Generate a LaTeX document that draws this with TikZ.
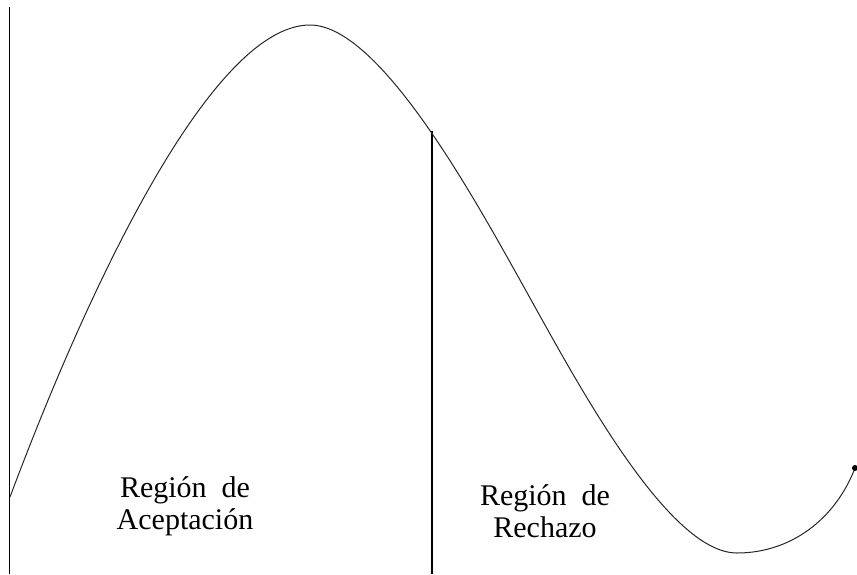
\documentclass[tikz,border=0pt]{standalone}
\usepackage{fontspec}
\setmainfont{Liberation Serif}
\usepackage{tikz}
\usetikzlibrary{positioning,calc}

\begin{document}
\begin{tikzpicture}[
    x=1pt, y=-1pt,
    axis/.style={draw=black, line width=1.3pt},
    curve/.style={draw=black!85, line width=1pt},
    region/.style={align=center, inner sep=0pt, font=\fontsize{30}{32}\selectfont}
]
\useasboundingbox (0,0) rectangle (857,574);

% puntos de la curva
\coordinate (start) at (10,497);
\coordinate (peak) at (310,25);
\coordinate (infl) at (525,289);
\coordinate (trough) at (737,553);
\coordinate (tip) at (855,468);

% ejes verticales
\coordinate (top) at (9.5,7);
\coordinate (bot) at (9.5,574);
\coordinate (cut) at (432,131);
\coordinate (cutbot) at (432,574);
\draw[axis] (top) -- (bot);
\draw[axis, line width=1.1pt] (cut) -- (cutbot);

% curva
\draw[curve] (start) .. controls (95,270) and (215,25) .. (peak)
    .. controls (380,25) and (475,199.5) .. (infl)
    .. controls (575,378.5) and (667,553) .. (trough)
    .. controls (790,553) and (835,520) .. (tip);
\fill (tip) circle (3);

% etiquetas
\node[region] (acept) at (185,506) {Región\ \ de\\Aceptación};
\node[region] (rech) at (545,511) {Región\ \ de\\Rechazo};

\end{tikzpicture}
\end{document}
